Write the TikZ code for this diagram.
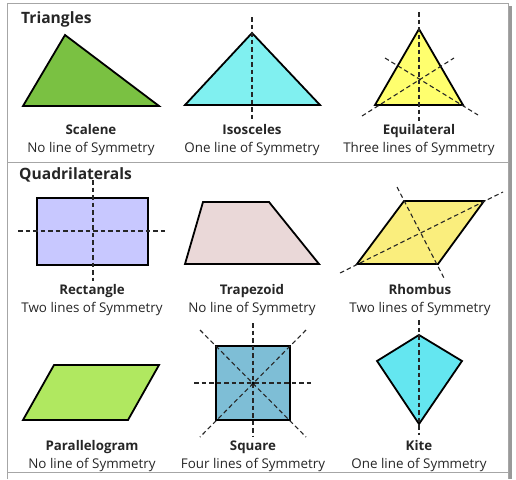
\documentclass[tikz,border=0pt]{standalone}
\usepackage{fontspec}
\setmainfont{Open Sans}
\begin{document}
\begin{tikzpicture}[x=1pt,y=-1pt,
  shp/.style={draw=black,line width=1.8pt,line join=miter},
  symline/.style={draw=black!85,line width=1.1pt,dash pattern=on 4.5pt off 3pt},
  lbl/.style={font=\bfseries\fontsize{13.3}{15}\selectfont,text=black!85,inner sep=0pt,anchor=base},
  dsc/.style={font=\fontsize{13.4}{15}\selectfont,text=black!85,inner sep=0pt,anchor=base},
  ttl/.style={font=\bfseries\fontsize{15.6}{17}\selectfont,text=black!85,inner sep=0pt,anchor=base west},
  frm/.style={draw=black!35,line width=1pt}]
\definecolor{cScalene}{RGB}{122,193,66}
\definecolor{cIso}{RGB}{128,240,240}
\definecolor{cEqui}{RGB}{255,255,110}
\definecolor{cRect}{RGB}{200,200,255}
\definecolor{cTrap}{RGB}{234,216,216}
\definecolor{cRhomb}{RGB}{250,238,125}
\definecolor{cPara}{RGB}{176,232,96}
\definecolor{cSq}{RGB}{126,190,214}
\definecolor{cKite}{RGB}{100,230,240}
\path[use as bounding box] (0,0) rectangle (516,479);
% frame
\fill[black!40] (509,6) rectangle (512,479);
\draw[frm] (7,479) -- (7,3) -- (508,3) -- (508,479);
\draw[frm] (7,162) -- (508,162);
\draw[frm] (7,472) -- (508,472);
% titles
\node[ttl] (tTri) at (21,23) {Triangles};
\node[ttl] (tQuad) at (19,179) {Quadrilaterals};
% Scalene
\coordinate (s1) at (65,35); \coordinate (s2) at (159,106); \coordinate (s3) at (23,106);
\filldraw[shp,fill=cScalene] (s1) -- (s2) -- (s3) -- cycle;
% Isosceles
\coordinate (i1) at (252,33); \coordinate (i2) at (320,105); \coordinate (i3) at (185,105);
\filldraw[shp,fill=cIso] (i1) -- (i2) -- (i3) -- cycle;
\coordinate (ia) at (252,17); \coordinate (ib) at (252,119);
\draw[symline] (ia) -- (ib);
% Equilateral
\coordinate (e1) at (419,29); \coordinate (e2) at (463,105); \coordinate (e3) at (375,105);
\filldraw[shp,fill=cEqui] (e1) -- (e2) -- (e3) -- cycle;
\coordinate (ea) at (419,12); \coordinate (eb) at (419,121);
\coordinate (ec) at (362,116); \coordinate (ed) at (454,58);
\coordinate (ee) at (385,58); \coordinate (ef) at (478,115);
\draw[symline] (ea) -- (eb);
\draw[symline] (ec) -- (ed);
\draw[symline] (ee) -- (ef);
% triangle labels
\node[lbl] (nSca) at (91,134) {Scalene};
\node[dsc] (dSca) at (91,152) {No line of Symmetry};
\node[lbl] (nIso) at (252,134) {Isosceles};
\node[dsc] (dIso) at (252,152) {One line of Symmetry};
\node[lbl] (nEqu) at (419,134) {Equilateral};
\node[dsc] (dEqu) at (419,152) {Three lines of Symmetry};
% Rectangle
\coordinate (r1) at (37,198); \coordinate (r2) at (148,265);
\filldraw[shp,fill=cRect] (r1) rectangle (r2);
\coordinate (ra) at (93,180); \coordinate (rb) at (93,281);
\coordinate (rc) at (18,231); \coordinate (rd) at (168,231);
\draw[symline] (ra) -- (rb);
\draw[symline] (rc) -- (rd);
% Trapezoid
\coordinate (t1) at (203,202); \coordinate (t2) at (269,202); \coordinate (t3) at (319,264); \coordinate (t4) at (185,264);
\filldraw[shp,fill=cTrap] (t1) -- (t2) -- (t3) -- (t4) -- cycle;
% Rhombus
\coordinate (h1) at (404,201); \coordinate (h2) at (484,201); \coordinate (h3) at (438,264); \coordinate (h4) at (357,264);
\filldraw[shp,fill=cRhomb] (h1) -- (h2) -- (h3) -- (h4) -- cycle;
\coordinate (ha) at (340,273); \coordinate (hb) at (503,192);
\coordinate (hc) at (397,187); \coordinate (hd) at (444,278);
\draw[symline] (ha) -- (hb);
\draw[symline] (hc) -- (hd);
% row 2 labels
\node[lbl] (nRec) at (92,294) {Rectangle};
\node[dsc] (dRec) at (92,312) {Two lines of Symmetry};
\node[lbl] (nTra) at (252,294) {Trapezoid};
\node[dsc] (dTra) at (252,312) {No line of Symmetry};
\node[lbl] (nRho) at (420,294) {Rhombus};
\node[dsc] (dRho) at (420,312) {Two lines of Symmetry};
% Parallelogram
\coordinate (p1) at (54,365); \coordinate (p2) at (159,365); \coordinate (p3) at (128,420); \coordinate (p4) at (23,420);
\filldraw[shp,fill=cPara] (p1) -- (p2) -- (p3) -- (p4) -- cycle;
% Square
\coordinate (q1) at (216,346); \coordinate (q2) at (290,420);
\filldraw[shp,fill=cSq] (q1) rectangle (q2);
\coordinate (qa) at (253,323); \coordinate (qb) at (253,437);
\coordinate (qc) at (194,383); \coordinate (qd) at (312,383);
\coordinate (qe) at (200,330); \coordinate (qf) at (306,437);
\coordinate (qg) at (306,330); \coordinate (qh) at (200,437);
\draw[symline] (qa) -- (qb);
\draw[symline] (qc) -- (qd);
\draw[symline] (qe) -- (qf);
\draw[symline] (qg) -- (qh);
\fill[black] (253,383) circle (1.6pt);
% Kite
\coordinate (k1) at (419,335); \coordinate (k2) at (462,361); \coordinate (k3) at (419,424); \coordinate (k4) at (377,361);
\filldraw[shp,fill=cKite] (k1) -- (k2) -- (k3) -- (k4) -- cycle;
\coordinate (ka) at (419,320); \coordinate (kb) at (419,435);
\draw[symline] (ka) -- (kb);
% row 3 labels
\node[lbl] (nPar) at (92,450) {Parallelogram};
\node[dsc] (dPar) at (92,468) {No line of Symmetry};
\node[lbl] (nSqu) at (253,450) {Square};
\node[dsc] (dSqu) at (253,468) {Four lines of Symmetry};
\node[lbl] (nKit) at (419,450) {Kite};
\node[dsc] (dKit) at (419,468) {One line of Symmetry};
\end{tikzpicture}
\end{document}
